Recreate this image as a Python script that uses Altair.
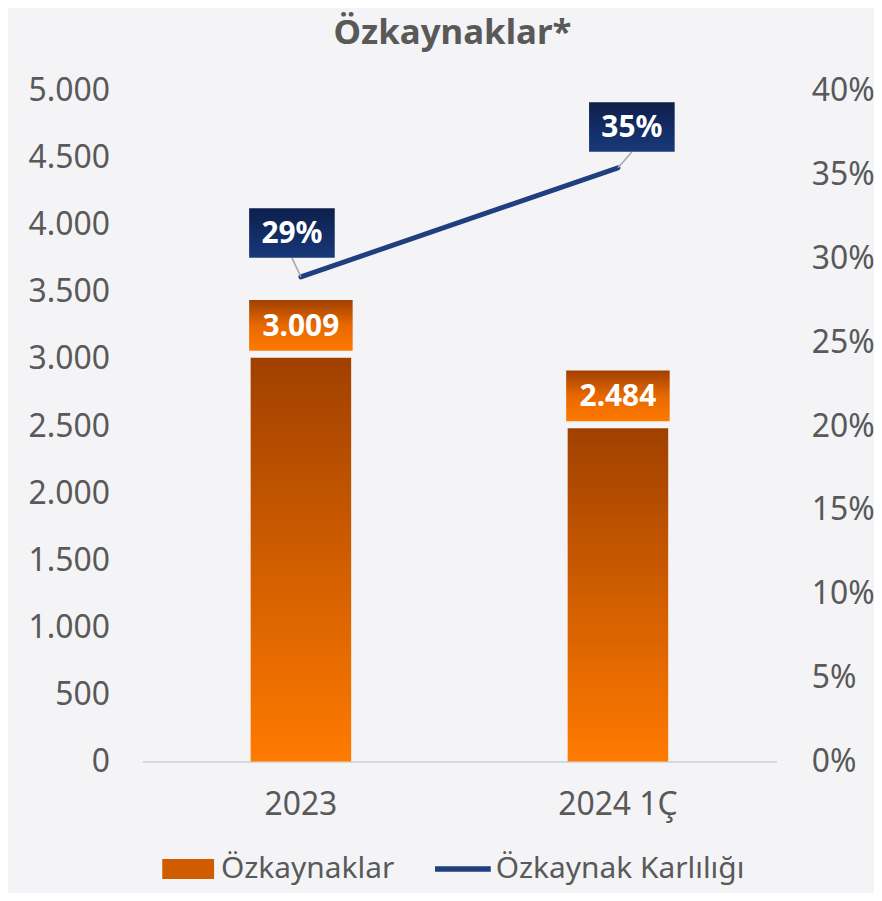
import altair as alt
import pandas as pd

# ---- data ----
categories = ["2023", "2024 1Ç"]
equity = [3009, 2484]
equity_labels = ["3.009", "2.484"]
roe = [0.289, 0.354]
roe_labels = ["29%", "35%"]
series_names = ["Özkaynaklar", "Özkaynak Karlılığı"]
left_ticks = [0, 500, 1000, 1500, 2000, 2500, 3000, 3500, 4000, 4500, 5000]
right_ticks = [0, 0.05, 0.10, 0.15, 0.20, 0.25, 0.30, 0.35, 0.40]

bar_df = pd.DataFrame({"cat": categories, "equity": equity, "label": equity_labels})
line_df = pd.DataFrame({"cat": categories, "roe": roe, "label": roe_labels})
legend_df = pd.DataFrame({"cat": categories, "series": series_names})

# ---- styles ----
FONT = "Noto Sans"
GREY = "#595959"
NAVY = "#1F3F7F"
BG = "#F4F4F7"
ORANGE_MID = "#D05C00"


def vgrad(stops):
    return alt.LinearGradient(
        gradient="linear",
        stops=[alt.GradientStop(color=c, offset=o) for o, c in stops],
        x1=0, x2=0, y1=0, y2=1,
    )


bar_grad = vgrad([(0, "#A04000"), (1, "#FF7A00")])
obox_grad = vgrad([(0, "#A04000"), (0.5, "#E86800"), (1, "#FF7A00")])
nbox_grad = vgrad([(0, "#0D1F4C"), (1, "#18397A")])

BAR_BOX = "M-1,-0.49L1,-0.49L1,0.49L-1,0.49Z"
NAV_BOX = "M-1,-0.58L1,-0.58L1,0.58L-1,0.58Z"
LEG_RECT = "M-0.93,-0.36L0.93,-0.36L0.93,0.36L-0.93,0.36Z"
LEG_LINE = "M-1,-0.1L1,-0.1L1,0.1L-1,0.1Z"

x_enc = alt.X(
    "cat:N",
    sort=categories,
    scale=alt.Scale(paddingInner=0, paddingOuter=0),
    axis=alt.Axis(
        title=None, labelAngle=0, labelFontSize=32, labelColor=GREY, labelFont=FONT,
        labelPadding=28, domainColor="#D9D9D9", domainWidth=2, ticks=False, grid=False,
    ),
)

left_axis = alt.Axis(
    title=None, values=left_ticks, orient="left",
    labelExpr="replace(format(datum.value, ','), ',', '.')",
    labelFontSize=32, labelColor=GREY, labelFont=FONT, labelPadding=33,
    ticks=False, domain=False, grid=False,
)
right_axis = alt.Axis(
    title=None, values=right_ticks, orient="right", format=".0%",
    labelFontSize=32, labelColor=GREY, labelFont=FONT, labelPadding=35,
    ticks=False, domain=False, grid=False,
)
left_scale = alt.Scale(domain=[0, 5000], nice=False, zero=True)
right_scale = alt.Scale(domain=[0, 0.4], nice=False, zero=True)

y_left = alt.Y("equity:Q", scale=left_scale, axis=left_axis)
y_right = alt.Y("roe:Q", scale=right_scale, axis=right_axis)

legend = alt.Legend(
    title=None, orient="none", legendX=18, legendY=754, direction="horizontal",
    labelFontSize=30, labelColor=GREY, labelFont=FONT, labelLimit=0, symbolSize=3136,
    symbolStrokeWidth=0, symbolOpacity=1, columnPadding=40, labelOffset=5, padding=0,
)

# legend carrier (hidden under the bars)
legend_layer = alt.Chart(legend_df).mark_point(filled=True, size=3136, strokeWidth=0, opacity=1).encode(
    x=x_enc,
    y=alt.datum(1000),
    color=alt.Color("series:N", scale=alt.Scale(domain=series_names, range=[ORANGE_MID, NAVY]), legend=legend),
    shape=alt.Shape("series:N", scale=alt.Scale(domain=series_names, range=[LEG_RECT, LEG_LINE]), legend=legend),
)

bars = alt.Chart(bar_df).mark_bar(size=101, color=bar_grad).encode(x=x_enc, y=y_left)

bar_boxes = alt.Chart(bar_df).mark_point(
    shape=BAR_BOX, size=10816, filled=True, fill=obox_grad, opacity=1, strokeWidth=0, yOffset=-32.5
).encode(x=x_enc, y=y_left)

bar_text = alt.Chart(bar_df).mark_text(
    color="white", fontWeight="bold", fontSize=30, font=FONT, baseline="middle", yOffset=-31
).encode(x=x_enc, y=y_left, text="label:N")

left = alt.layer(legend_layer, bars, bar_boxes, bar_text)

line = alt.Chart(line_df).mark_line(color=NAVY, strokeWidth=5, strokeCap="round").encode(x=x_enc, y=y_right)

label_specs = [
    (roe_labels[0], -9, -44, "M0,0L-0.474,-1", 1444),
    (roe_labels[1], 14, -41, "M0,0L0.875,-1", 1024),
]
right_layers = [line]
for lab, dx, dy, leader_path, leader_size in label_specs:
    base = alt.Chart(line_df).transform_filter(alt.datum.label == lab)
    right_layers.append(
        base.mark_point(shape=leader_path, size=leader_size, filled=False, color="#A6A6A6",
                        strokeWidth=1.5, opacity=1).encode(x=x_enc, y=y_right)
    )
    right_layers.append(
        base.mark_point(shape=NAV_BOX, size=7396, filled=True, fill=nbox_grad, opacity=1,
                        strokeWidth=0, xOffset=dx, yOffset=dy).encode(x=x_enc, y=y_right)
    )
    right_layers.append(
        base.mark_text(color="white", fontWeight="bold", fontSize=30, font=FONT, baseline="middle",
                       xOffset=dx, yOffset=dy + 1).encode(x=x_enc, y=y_right, text="label:N")
    )

right = alt.layer(*right_layers)

chart = (
    alt.layer(left, right)
    .resolve_scale(y="independent")
    .properties(
        width=637,
        height=674,
        autosize=alt.AutoSizeParams(type="none"),
        padding={"left": 135, "top": 81, "right": 98, "bottom": 130},
        background=BG,
        title=alt.Title(
            "Özkaynaklar*", fontSize=35, fontWeight="bold", color=GREY, font=FONT,
            anchor="middle", dx=-7, offset=24,
        ),
    )
    .configure(font=FONT, view=alt.ViewConfig(stroke=None))
)

chart.save("out.html", embed_options={"renderer": "svg", "actions": False})
